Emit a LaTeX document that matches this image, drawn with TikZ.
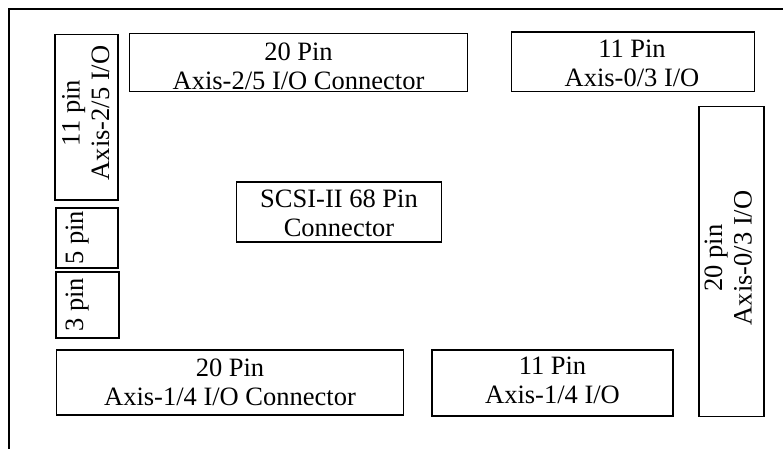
\documentclass[tikz,border=0pt]{standalone}
\usepackage{fontspec}
\setmainfont{Liberation Serif}
\newcommand{\twoline}[2]{\begin{tabular}{@{}c@{}}#1\\#2\end{tabular}}
\begin{document}
\begin{tikzpicture}[x=1pt, y=-1pt,
  frame/.style={line width=2pt},
  box/.style={draw, line width=1.4pt, inner sep=0pt, outer sep=0pt},
  lbl/.style={inner sep=0pt, font=\fontsize{26.5}{29.5}\selectfont},
  vlbl/.style={lbl, rotate=90}]
\useasboundingbox (0,0) rectangle (783,449);

% board outline (only top and left edges in view)
\coordinate (edgeTR) at (783,9);
\coordinate (edgeTL) at (9,9);
\coordinate (edgeBL) at (9,449);
\draw[frame] (edgeTR) -- (edgeTL) -- (edgeBL);

% connector outlines
\node[box, minimum width=338pt, minimum height=58pt]  (ax25) at (298.5,62.5) {};
\node[box, minimum width=243pt, minimum height=59.5pt] (ax03) at (633,61.75) {};
\node[box, minimum width=63pt,  minimum height=165.5pt] (ax25s) at (86.5,117.25) {};
\node[box, minimum width=62pt,  minimum height=60pt]  (pin5) at (87,238) {};
\node[box, minimum width=63pt,  minimum height=66pt]  (pin5b) at (87.5,305) {};
\node[box, minimum width=205pt, minimum height=60pt]  (scsi) at (339,212) {};
\node[box, minimum width=347pt, minimum height=65pt]  (ax14) at (230,382.5) {};
\node[box, minimum width=241pt, minimum height=66pt]  (ax14s) at (552.5,383) {};
\node[box, minimum width=65pt,  minimum height=310pt] (ax03s) at (731.5,261.5) {};

% labels
\node[lbl] (ax25t) at (298.5,69) {\twoline{20 Pin}{Axis-2/5 I/O Connector}};
\node[lbl] (ax03t) at (632,66) {\twoline{11 Pin}{Axis-0/3 I/O}};
\node[lbl] (scsit) at (339,216) {\twoline{SCSI-II 68 Pin}{Connector}};
\node[lbl] (ax14t) at (230,385) {\twoline{20 Pin}{Axis-1/4 I/O Connector}};
\node[lbl] (ax14st) at (552.5,383) {\twoline{11 Pin}{Axis-1/4 I/O}};
\node[vlbl] (ax25st) at (88.5,113) {\twoline{11 pin}{Axis-2/5 I/O}};
\node[vlbl] (ax03st) at (731,258) {\twoline{20 pin}{Axis-0/3 I/O}};
\node[vlbl, anchor=base] (pin5t) at (83,238) {5 pin};
\node[vlbl, anchor=base] (pin3t) at (83,305) {3 pin};
\end{tikzpicture}
\end{document}
